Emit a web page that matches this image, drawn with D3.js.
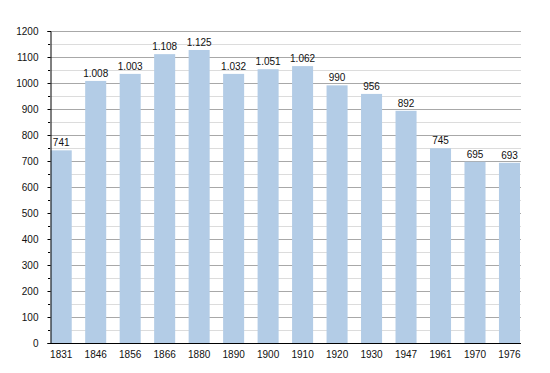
<!DOCTYPE html>
<html>
<head>
<meta charset="utf-8">
<script src="https://d3js.org/d3.v7.min.js"></script>
<style>
body { margin: 0; background: #fff; }
text { font-family: "Liberation Sans", Arial, sans-serif; font-size: 10px; fill: #111; }
</style>
</head>
<body>
<svg width="550" height="373"></svg>
<script>
// years and population (bar heights)
var years = ["1831","1846","1856","1866","1880","1890","1900","1910","1920","1930","1947","1961","1970","1976"];
var values = [741, 1008, 1035, 1111, 1127, 1035, 1053, 1065, 991, 958, 893, 749, 697, 693];
// labels as printed above the bars
var labels = ["741","1.008","1.003","1.108","1.125","1.032","1.051","1.062","990","956","892","745","695","693"];
var yTicks = d3.range(0, 1201, 100);

var svg = d3.select("svg");
var plotLeft = 50, plotRight = 520, plotTop = 31, plotBottom = 343;

var x = d3.scaleBand()
    .domain(years)
    .range([plotLeft + 0.7, plotRight])
    .paddingInner(0.39)
    .paddingOuter(0);

var y = d3.scaleLinear()
    .domain([0, 1200])
    .range([plotBottom, plotTop]);

function yPix(d) { return Math.round(y(d)) + 0.5; }

// minor gridlines
svg.append("g").selectAll("line")
    .data(d3.range(50, 1200, 100))
  .enter().append("line")
    .attr("x1", plotLeft).attr("x2", plotRight + 1)
    .attr("y1", yPix).attr("y2", yPix)
    .attr("stroke", "#dcdcdc");

// major gridlines
svg.append("g").selectAll("line")
    .data(yTicks.slice(1))
  .enter().append("line")
    .attr("x1", plotLeft).attr("x2", plotRight + 1)
    .attr("y1", yPix).attr("y2", yPix)
    .attr("stroke", "#a8a8a8");

// bars
svg.append("g").selectAll("rect")
    .data(values)
  .enter().append("rect")
    .attr("x", function(d, i) { return x(years[i]); })
    .attr("width", x.bandwidth())
    .attr("y", function(d) { return y(d); })
    .attr("height", function(d) { return plotBottom - y(d); })
    .attr("fill", "#b3cce6");

// value labels
svg.append("g").selectAll("text")
    .data(values)
  .enter().append("text")
    .attr("x", function(d, i) { return x(years[i]) + x.bandwidth() / 2; })
    .attr("y", function(d) { return y(d) - 4; })
    .attr("text-anchor", "middle")
    .text(function(d, i) { return labels[i]; });

// y axis
var yAxis = d3.axisLeft(y).tickValues(yTicks).tickFormat(d3.format("d")).tickSize(3).tickPadding(9);
var gy = svg.append("g")
    .attr("transform", "translate(" + (plotLeft + 0.5) + ",0)")
    .call(yAxis);
gy.select(".domain").attr("stroke", "#000");
gy.selectAll(".tick line").attr("stroke", "#000");
gy.selectAll("text").style("font-size", "10px").attr("fill", "#111");

// minor y ticks
svg.append("g").selectAll("line")
    .data(d3.range(50, 1200, 100))
  .enter().append("line")
    .attr("x1", plotLeft - 2).attr("x2", plotLeft)
    .attr("y1", yPix).attr("y2", yPix)
    .attr("stroke", "#000");

// x axis
var xAxis = d3.axisBottom(x).tickSize(0).tickPadding(7);
var gx = svg.append("g")
    .attr("transform", "translate(0," + (plotBottom + 0.5) + ")")
    .call(xAxis);
gx.select(".domain").attr("d", "M" + plotLeft + ",0H" + (plotRight + 1)).attr("stroke", "#000");
gx.selectAll("text").style("font-size", "10px").attr("fill", "#111");
</script>
</body>
</html>
